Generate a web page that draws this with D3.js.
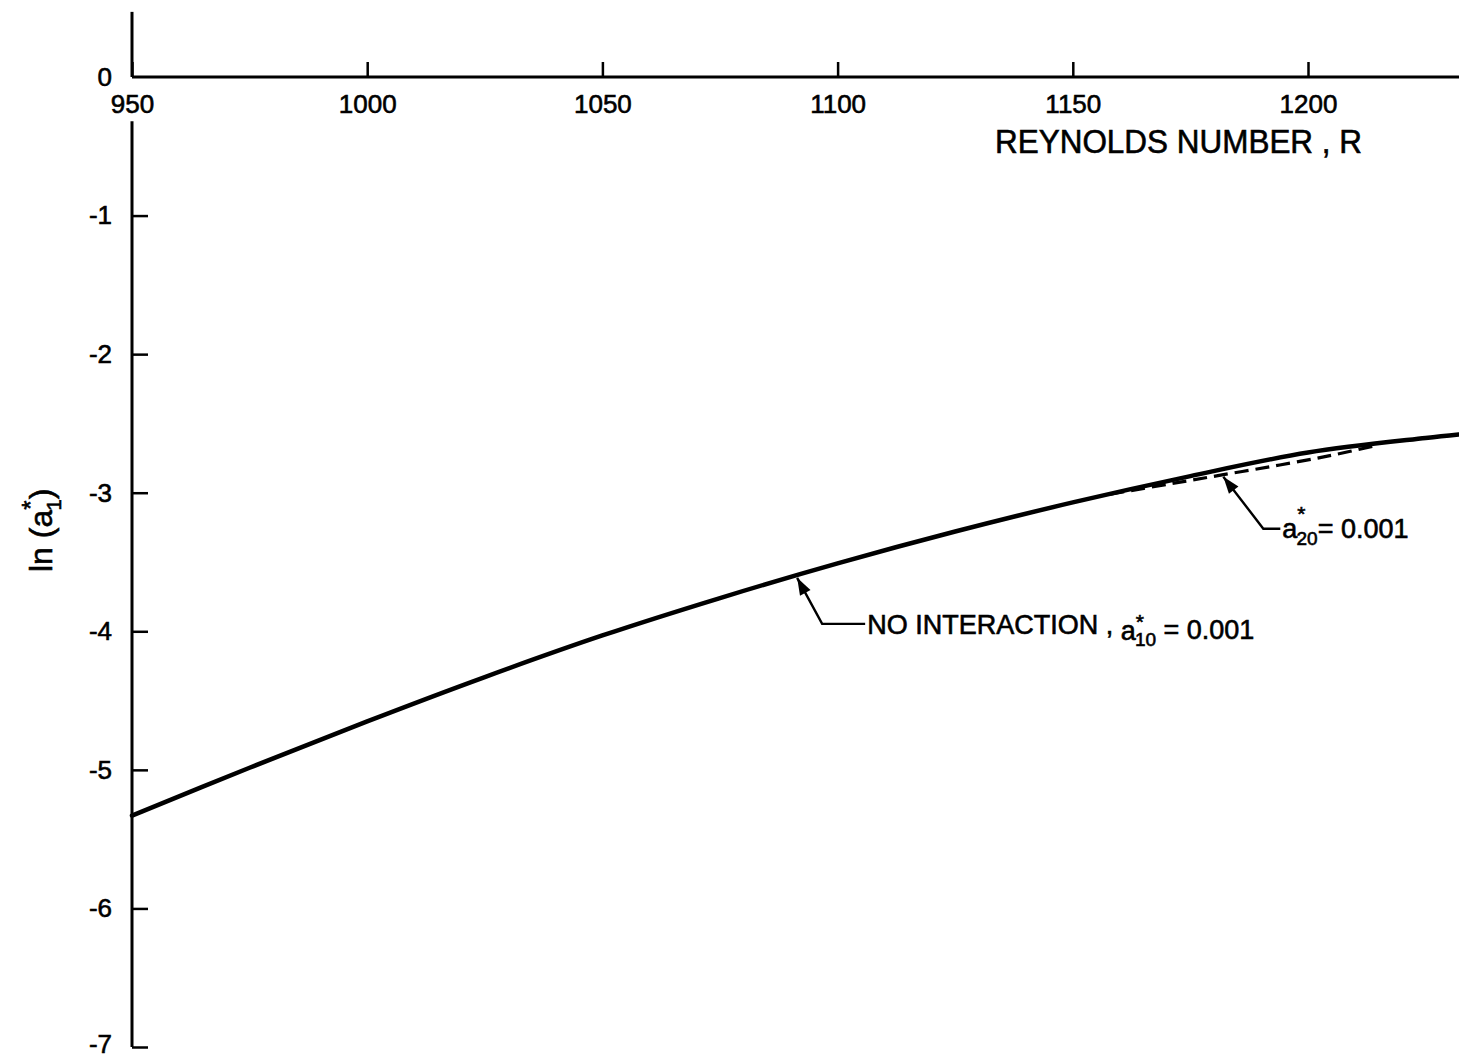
<!DOCTYPE html>
<html>
<head>
<meta charset="utf-8">
<script src="https://cdn.jsdelivr.net/npm/d3@7"></script>
<style>
  html, body { margin: 0; padding: 0; background: #fff; }
  svg text { font-family: "Liberation Sans", Arial, sans-serif; fill: #000; stroke: #000; stroke-width: 0.6px; }
</style>
</head>
<body>
<svg id="chart" width="1459" height="1059"></svg>
<script>
// ---- data ----
const reynolds = [950, 975, 1000, 1025, 1050, 1075, 1100, 1125, 1150, 1175, 1200, 1225, 1232];
const lnA1NoInteraction = [-5.33, -4.985, -4.65, -4.33, -4.03, -3.76, -3.51, -3.28, -3.07, -2.88, -2.71, -2.605, -2.58];
const reynoldsInteraction = [1158, 1170, 1182, 1194, 1205, 1215];
const lnA1Interaction = [-3.01, -2.94, -2.87, -2.80, -2.73, -2.655];
const xTickValues = [950, 1000, 1050, 1100, 1150, 1200];
const xTickLabels = ["950", "1000", "1050", "1100", "1150", "1200"];
const yTickValues = [0, -1, -2, -3, -4, -5, -6, -7];
const yTickLabels = ["0", "-1", "-2", "-3", "-4", "-5", "-6", "-7"];
const xTitle = "REYNOLDS  NUMBER , R";
// annotation anchor points (data coords)
const note1Anchor = [1091.4, -3.60];
const note2Anchor = [1182, -2.87];

// ---- scales ----
const svg = d3.select("#chart");
const x = d3.scaleLinear().domain([950, 1200]).range([132, 1308]);
const y = d3.scaleLinear().domain([0, -7]).range([77, 1047]);
const xMax = x.invert(1459);

// ---- x axis (ticks upward, labels below) ----
const xAxis = d3.axisBottom(x)
  .tickValues(xTickValues)
  .tickFormat((d, i) => xTickLabels[i])
  .tickSizeInner(-15).tickSizeOuter(0).tickPadding(18);
const gx = svg.append("g").attr("transform", `translate(0,${y(0)})`).call(xAxis);
gx.select(".domain").remove();
gx.selectAll(".tick line").attr("stroke", "#000").attr("stroke-width", 2.5);
gx.selectAll(".tick text").attr("font-size", 26);
svg.append("line")
  .attr("x1", x(950)).attr("x2", x(xMax))
  .attr("y1", y(0)).attr("y2", y(0))
  .attr("stroke", "#000").attr("stroke-width", 3);

// ---- y axis (ticks to the right, labels left) ----
const yAxis = d3.axisLeft(y)
  .tickValues(yTickValues)
  .tickFormat((d, i) => yTickLabels[i])
  .tickSizeInner(-16).tickSizeOuter(0).tickPadding(20);
const gy = svg.append("g").attr("transform", `translate(${x(950)},0)`).call(yAxis);
gy.select(".domain").remove();
gy.selectAll(".tick line").attr("stroke", "#000").attr("stroke-width", 2.5)
  .filter(d => d === 0).remove();
gy.selectAll(".tick text").attr("font-size", 26);
gy.selectAll(".tick text").filter(d => d === -7).attr("dy", "0.2em");
// axis line in two segments (gap for the 950 label)
[[0.47, 0], [-0.32, -7]].forEach(([a, b]) => {
  svg.append("line")
    .attr("x1", x(950)).attr("x2", x(950))
    .attr("y1", y(a)).attr("y2", y(b))
    .attr("stroke", "#000").attr("stroke-width", 3);
});

// ---- titles ----
svg.append("text")
  .attr("x", 995).attr("y", 153)
  .attr("font-size", 33)
  .attr("textLength", 367).attr("lengthAdjust", "spacingAndGlyphs")
  .text(xTitle);

const yl = svg.append("text")
  .attr("transform", "translate(52,572) rotate(-90)")
  .attr("font-size", 32);
yl.append("tspan").text("ln (a");
yl.append("tspan").attr("font-size", 24).attr("dy", -13).text("*");
yl.append("tspan").attr("font-size", 20).attr("dx", -10).attr("dy", 22).text("1");
yl.append("tspan").attr("dy", -9).text(")");

// ---- lines ----
const line = d3.line().x(d => x(d[0])).y(d => y(d[1])).curve(d3.curveCatmullRom.alpha(0.5));
svg.append("path")
  .datum(reynolds.map((r, i) => [r, lnA1NoInteraction[i]]))
  .attr("d", line).attr("fill", "none")
  .attr("stroke", "#000").attr("stroke-width", 4.5).attr("stroke-linecap", "round");
svg.append("path")
  .datum(reynoldsInteraction.map((r, i) => [r, lnA1Interaction[i]]))
  .attr("d", line).attr("fill", "none")
  .attr("stroke", "#000").attr("stroke-width", 3.2)
  .attr("stroke-dasharray", "14,7");

// ---- annotations ----
function arrowLeader(tip, knee, end) {
  svg.append("path")
    .attr("d", `M${end[0]},${end[1]}L${knee[0]},${knee[1]}L${tip[0]},${tip[1]}`)
    .attr("fill", "none").attr("stroke", "#000").attr("stroke-width", 2.4);
  const ang = Math.atan2(tip[1] - knee[1], tip[0] - knee[0]);
  const L = 17, W = 6;
  const bx = tip[0] - L * Math.cos(ang), by = tip[1] - L * Math.sin(ang);
  const px = -Math.sin(ang) * W, py = Math.cos(ang) * W;
  svg.append("path")
    .attr("d", `M${tip[0]},${tip[1]}L${bx + px},${by + py}L${bx - px},${by - py}Z`)
    .attr("fill", "#000");
}

// note 1
const t1 = [x(note1Anchor[0]), y(note1Anchor[1]) + 2];
arrowLeader(t1, [t1[0] + 25, t1[1] + 46], [t1[0] + 68, t1[1] + 46]);
const n1 = svg.append("text").attr("x", t1[0] + 70).attr("y", t1[1] + 56).attr("font-size", 27);
n1.append("tspan").text("NO INTERACTION , ");
n1.append("tspan").attr("dy", 6).text("a");
n1.append("tspan").attr("font-size", 21).attr("dy", -11).text("*");
n1.append("tspan").attr("font-size", 19).attr("dx", -9).attr("dy", 17).text("10");
n1.append("tspan").attr("dy", -7).text(" = 0.001");

// note 2
const t2 = [x(note2Anchor[0]), y(note2Anchor[1]) + 2];
arrowLeader(t2, [t2[0] + 40, t2[1] + 52], [t2[0] + 57, t2[1] + 52]);
const n2 = svg.append("text").attr("x", t2[0] + 59).attr("y", t2[1] + 61).attr("font-size", 27);
n2.append("tspan").text("a");
n2.append("tspan").attr("font-size", 21).attr("dy", -17).text("*");
n2.append("tspan").attr("font-size", 19).attr("dx", -9).attr("dy", 24).text("20");
n2.append("tspan").attr("dy", -7).text("= 0.001");
</script>
</body>
</html>
